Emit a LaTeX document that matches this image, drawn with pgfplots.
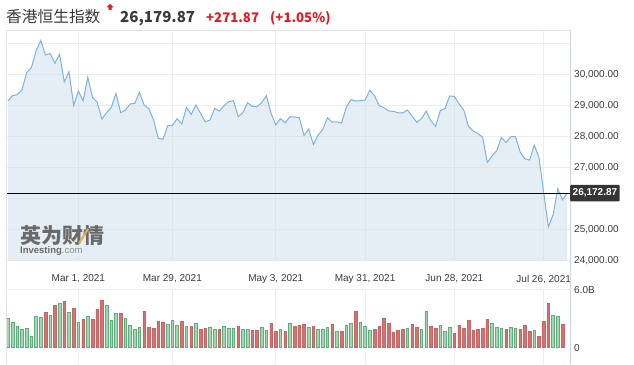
\documentclass[border=0pt]{standalone}
\usepackage{fontspec}
\setmainfont{Liberation Sans}
\newfontfamily\cjk{Noto Sans CJK SC}
\usepackage{pgfplots}
\usepackage{pgfplotstable}
\pgfplotsset{compat=1.18}
\definecolor{linecol}{HTML}{7EB2DD}
\definecolor{fillcol}{HTML}{CFE0EC}
\definecolor{gridcol}{HTML}{EDEDED}
\definecolor{bordcol}{HTML}{E3E3E3}
\definecolor{axiscol}{HTML}{CCD6EB}
\definecolor{txt}{HTML}{3A3A3A}
\definecolor{upfill}{HTML}{A3D6B2}
\definecolor{updraw}{HTML}{5FAF7A}
\definecolor{dnfill}{HTML}{D57373}
\definecolor{dndraw}{HTML}{C86464}
\definecolor{redtxt}{HTML}{E8161E}
\definecolor{boxcol}{HTML}{353535}
\definecolor{wmgray}{HTML}{6A6A6A}
\definecolor{wmlight}{HTML}{8C8C8C}
\definecolor{wmorange}{HTML}{E8B04A}

\pgfplotstableread{
x y
0 29140
1 29312
2 29344
3 29495
4 30054
5 30215
6 30753
7 31085
8 30624
9 30667
10 30355
11 30645
12 29753
13 30086
14 29000
15 29462
16 29140
17 29903
18 29258
19 29097
20 28559
21 28763
22 28935
23 29387
24 28763
25 28849
26 29043
27 29065
28 29419
29 29011
30 28892
31 28527
32 27935
33 27914
34 28344
35 28355
36 28570
37 28398
38 28935
39 28710
40 29011
41 28742
42 28473
43 28527
44 28903
45 28817
46 28989
47 29118
48 29150
49 28634
50 28763
51 29086
52 28968
53 28957
54 29086
55 29312
56 28742
57 28376
58 28570
59 28441
60 28634
61 28624
62 28602
63 28032
64 28237
65 27742
66 28043
67 28226
68 28602
69 28462
70 28470
71 28430
72 28935
73 29183
74 29140
75 29150
76 29172
77 29484
78 29312
79 28989
80 28925
81 28817
82 28806
83 28763
84 28753
85 28849
86 28656
87 28452
88 28570
89 28817
90 28505
91 28323
92 28828
93 28903
94 29301
95 29290
96 29043
97 28849
98 28323
99 28172
100 28097
101 27978
102 27161
103 27366
104 27538
105 27968
106 27806
107 27989
108 28000
109 27495
110 27280
111 27237
112 27720
113 27321
114 26192
115 25086
116 25473
117 26315
118 25961
119 26173
}\closes

\pgfplotstableread{
x v
0 3.03
1 2.62
2 2.21
3 1.90
4 2.00
5 1.17
6 3.24
7 3.14
9 3.34
11 4.59
13 3.66
15 2.62
17 3.24
21 4.38
22 2.86
23 3.55
25 3.03
26 2.31
27 1.90
28 2.10
34 2.41
35 2.83
36 2.31
38 2.21
40 2.52
43 2.10
44 1.90
46 2.21
47 2.00
48 2.00
50 1.90
51 1.90
54 2.10
55 1.79
58 1.90
60 2.52
64 2.10
66 1.90
67 1.90
68 2.10
70 1.69
72 2.31
73 2.52
75 2.62
76 2.21
77 1.79
85 2.00
88 1.90
89 3.76
92 2.31
93 1.69
94 2.10
103 2.52
104 2.10
105 2.00
107 2.10
108 2.00
112 1.79
116 3.34
117 3.24
}\upvol

\pgfplotstableread{
x v
8 3.66
10 4.38
12 4.83
14 4.07
16 2.97
18 2.97
19 4.00
20 4.93
24 3.55
29 3.79
30 2.10
31 2.00
32 2.76
33 2.62
37 2.72
39 2.21
41 1.90
42 2.00
45 1.90
49 2.21
52 1.79
53 1.79
56 2.52
57 1.69
59 1.69
61 2.21
62 2.31
63 2.41
65 2.21
69 2.41
71 1.69
74 3.79
78 1.90
79 2.21
80 3.03
81 2.52
82 1.59
83 1.79
84 1.90
86 2.41
87 2.10
90 2.21
91 2.00
95 1.48
96 2.31
97 2.00
98 2.86
99 1.79
100 1.90
101 2.00
102 2.93
106 1.90
109 1.90
110 2.31
111 1.69
113 1.17
114 2.72
115 4.59
118 2.41
}\dnvol

\begin{document}
\begin{tikzpicture}[x=1pt,y=1pt]
\useasboundingbox (0,0) rectangle (634,364);

% main price pane
\begin{axis}[
  at={(6pt,103.3pt)}, anchor=south west,
  width=564pt, height=230.7pt, scale only axis,
  xmin=-0.4, xmax=119.6, ymin=24000, ymax=31425,
  axis line style={draw=none},
  scaled y ticks=false,
  xtick={15,35,57,76,95,114},
  xticklabels={{Mar 1, 2021},{Mar 29, 2021},{May 3, 2021},{May 31, 2021},{Jun 28, 2021},{Jul 26, 2021}},
  ytick={24000,25000,...,31000},
  yticklabels={{24,000.00},{25,000.00},{},{27,000.00},{28,000.00},{29,000.00},{30,000.00},{}},
  yticklabel pos=right,
  major tick length=0pt,
  grid=major, major grid style={gridcol, line width=0.8pt},
  tick label style={font=\fontsize{10}{12}\selectfont, text=txt, inner sep=0pt},
  xticklabel style={anchor=north, yshift=-14pt},
  yticklabel style={anchor=west, xshift=4pt},
]
\addplot[draw=none, fill=fillcol, fill opacity=0.55] table[x=x,y=y] {\closes} \closedcycle;
\addplot[linecol, line width=1pt] table[x=x,y=y] {\closes};
\addplot[black, line width=0.9pt] coordinates {(-0.4,26172.87) (119.6,26172.87)};
\coordinate (lbl) at (axis cs:119.6,26172.87);
\end{axis}

% volume pane
\begin{axis}[
  at={(6pt,0pt)}, anchor=south west,
  width=564pt, height=74.3pt, scale only axis,
  xmin=-0.4, xmax=119.6, ymin=-1.686, ymax=6,
  axis line style={draw=none},
  xtick={15,35,57,76,95,114}, xticklabels={},
  xmajorgrids, major grid style={gridcol, line width=0.8pt},
  ytick={0,6}, yticklabels={0,6.0B},
  yticklabel pos=right,
  major tick length=0pt,
  tick label style={font=\fontsize{10}{12}\selectfont, text=txt, inner sep=0pt},
  yticklabel style={anchor=west, xshift=4pt},
]
\addplot[ybar, bar width=2.6pt, bar shift=0pt, fill=upfill, draw=updraw, line width=0.6pt] table[x=x,y=v] {\upvol};
\addplot[ybar, bar width=2.6pt, bar shift=0pt, fill=dnfill, draw=dndraw, line width=0.5pt] table[x=x,y=v] {\dnvol};
\end{axis}

% borders
\draw[bordcol, line width=0.8pt] (6,0) -- (6,334) -- (570,334);
\draw[gridcol, line width=0.8pt] (6,74.3) -- (570,74.3);
\draw[axiscol, line width=0.9pt] (570,0) -- (570,334);

% current value box
\node[anchor=west, fill=boxcol, text=white, font=\bfseries\fontsize{10}{12}\selectfont,
      inner xsep=2.5pt, inner ysep=0pt, minimum height=16.5pt, rounded corners=1pt] at (lbl) {26,172.87};

% title
\node[anchor=base west, inner sep=0pt, font=\cjk\fontsize{15.7}{18}\selectfont, text=txt] at (6,341.5) {香港恒生指数};
\fill[redtxt] (110,360) -- (113.5,356.5) -- (111.5,356.5) -- (111.5,354) -- (108.5,354) -- (108.5,356.5) -- (106.5,356.5) -- cycle;
\node[anchor=base west, inner sep=0pt, font=\cjk\bfseries\fontsize{15.1}{18}\selectfont, text=txt] at (120,341.5) {26,179.87};
\node[anchor=base west, inner sep=0pt, font=\cjk\bfseries\fontsize{13.2}{16}\selectfont, text=redtxt] at (206,341.5) {+271.87};
\node[anchor=base west, inner sep=0pt, font=\cjk\bfseries\fontsize{13.2}{16}\selectfont, text=redtxt] at (270,341.5) {(+1.05\%)};

% watermark
\node[anchor=base west, inner sep=0pt, font=\cjk\bfseries\fontsize{21}{24}\selectfont, text=wmgray] at (20,120.5) {英为财情};
\draw[wmorange, line width=2pt] (79,120.5) -- (88,135);
\node[anchor=base west, inner sep=0pt, font=\fontsize{9.5}{11}\selectfont, text=wmgray] at (20,110) {\textbf{Investing}{\color{wmlight}.com}};
\end{tikzpicture}
\end{document}
